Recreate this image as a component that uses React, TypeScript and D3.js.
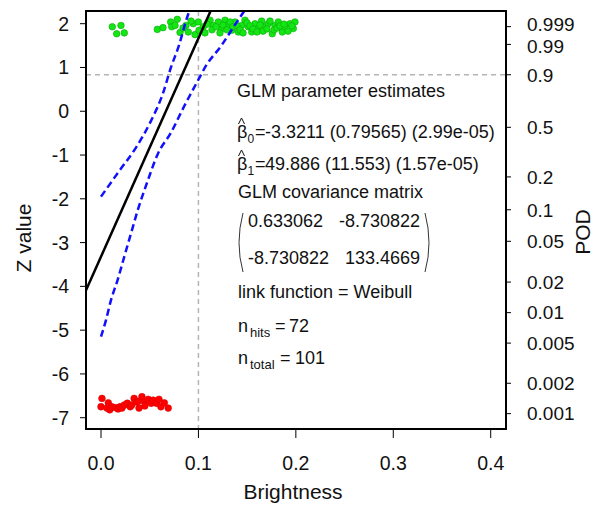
import * as d3 from 'd3';

// axis ticks
const xTicks = [0, 0.1, 0.2, 0.3, 0.4];
const zTicks = [2, 1, 0, -1, -2, -3, -4, -5, -6, -7];
const podTicks = [0.999, 0.99, 0.9, 0.5, 0.2, 0.1, 0.05, 0.02, 0.01, 0.005, 0.002, 0.001];

// fitted model
const beta0 = -3.3211;
const beta1 = 49.886;
const podRef = 0.9;
const decisionX = 0.1;

// hits (plotted at top) and misses (plotted at bottom)
const hitX = [0.0116, 0.0205, 0.0161, 0.0239,
  0.0578, 0.0636, 0.0715, 0.0783, 0.0726, 0.076, 0.0811, 0.0872, 0.0896, 0.0947, 0.0965, 0.1006,
  0.0999, 0.105, 0.1119, 0.1153, 0.1204, 0.1239, 0.1273, 0.1307, 0.1342, 0.1375, 0.1409, 0.1444, 0.1478, 0.1512,
  0.1547, 0.1581, 0.1615, 0.1649, 0.1683, 0.1717, 0.1758, 0.1786, 0.182, 0.1861, 0.1889, 0.194, 0.1974, 0.1991,
  0.1067, 0.1088, 0.1139, 0.118, 0.1221, 0.1252, 0.1293, 0.1324, 0.1355, 0.1396, 0.1427, 0.1458, 0.1499, 0.153,
  0.156, 0.1601, 0.1632, 0.1663, 0.1704, 0.1735, 0.1776, 0.1806, 0.1837, 0.1878, 0.192, 0.196, 0.0842, 0.0924];
const hitZ = [1.93, 1.96, 1.77, 1.79,
  1.87, 1.91, 2.04, 2.1, 1.93, 1.96, 1.8, 1.96, 1.81, 2.0, 1.75, 1.85,
  2.04, 1.93, 2.08, 1.96, 2.04, 1.89, 2.08, 1.96, 1.85, 2.04, 1.81, 1.96, 2.08, 1.93,
  1.81, 2.0, 1.89, 2.06, 1.93, 2.0, 1.77, 1.96, 2.04, 1.81, 1.93, 2.0, 1.89, 2.04,
  1.79, 1.99, 1.86, 1.93, 1.79, 1.97, 1.86, 2.04, 1.93, 1.95, 1.86, 1.79, 2.02, 1.95,
  1.88, 1.81, 1.97, 1.83, 1.88, 2.06, 1.86, 1.9, 1.95, 1.99, 1.83, 1.95, 1.9, 2.06];
const missX = [0.0, 0.001, 0.006, 0.0075, 0.009, 0.011, 0.015, 0.0175, 0.0195, 0.0215,
  0.024, 0.027, 0.03, 0.0315, 0.034, 0.036, 0.038, 0.039, 0.042, 0.0445,
  0.045, 0.0485, 0.0515, 0.0535, 0.057, 0.0595, 0.0615, 0.065, 0.069];
const missZ = [-6.75, -6.56, -6.78, -6.66, -6.82, -6.75, -6.77, -6.8, -6.75, -6.78,
  -6.71, -6.67, -6.75, -6.71, -6.56, -6.64, -6.63, -6.78, -6.52, -6.63,
  -6.73, -6.58, -6.67, -6.6, -6.67, -6.58, -6.75, -6.66, -6.78];

// confidence bounds
const upperX = [0, 0.0188, 0.0359, 0.0513, 0.0633, 0.0718, 0.0804, 0.0872, 0.0906];
const upperZ = [-1.95, -1.36, -0.83, -0.22, 0.39, 1.0, 1.53, 2.06, 2.29];
const lowerX = [0, 0.0051, 0.0103, 0.0171, 0.0239, 0.0308, 0.0377, 0.0479, 0.0582, 0.0718, 0.0855, 0.0992, 0.1078, 0.1232, 0.1368, 0.147];
const lowerZ = [-5.15, -4.77, -4.31, -3.85, -3.32, -2.79, -2.26, -1.59, -0.98, -0.49, 0.12, 0.69, 1.04, 1.49, 1.95, 2.29];

const W = 603;
const H = 509;
const L = 86, R = 506, T = 11, B = 429;
const font = '"Liberation Sans", Arial, Helvetica, sans-serif';

const weibullLink = (p: number) => Math.log(-Math.log(1 - p));

export default function App() {
  const x = d3.scaleLinear().domain([-0.0154, 0.4157]).range([L, R]);
  const y = d3.scaleLinear().domain([-7.258, 2.29]).range([B, T]);

  const band = d3.line<number[]>()
    .x(d => x(d[0]))
    .y(d => y(d[1]))
    .curve(d3.curveMonotoneX);
  const upper = band(upperX.map((v, i) => [v, upperZ[i]]));
  const lower = band(lowerX.map((v, i) => [v, lowerZ[i]]));

  const [x0, x1] = x.domain();
  const fitLine = d3.line<number[]>().x(d => x(d[0])).y(d => y(d[1]))([
    [x0, beta0 + beta1 * x0],
    [x1, beta0 + beta1 * x1],
  ]);

  const zRef = weibullLink(podRef);
  const fmt = d3.format('.1f');
  // top two POD labels sit very close; nudge them apart a little
  const podNudge = (p: number) => (p === 0.999 ? -2.5 : p === 0.99 ? 2 : 0);

  return (
    <svg width={W} height={H} style={{ position: 'absolute', left: 0, top: 0, background: '#fff' }}
      fontFamily={font}>
      <defs>
        <clipPath id="plot">
          <rect x={L} y={T} width={R - L} height={B - T} />
        </clipPath>
      </defs>

      <g clipPath="url(#plot)">
        <line x1={L} x2={R} y1={y(zRef)} y2={y(zRef)} stroke="#b4b4b4" strokeWidth={1.5} strokeDasharray="5,4" />
        <line x1={x(decisionX)} x2={x(decisionX)} y1={T} y2={B} stroke="#b4b4b4" strokeWidth={1.5} strokeDasharray="5,4" />
        {hitX.map((v, i) => (
          <circle key={'h' + i} cx={x(v)} cy={y(hitZ[i])} r={3.3} fill="#14e614" stroke="#0aa80a" strokeWidth={0.6} />
        ))}
        {missX.map((v, i) => (
          <circle key={'m' + i} cx={x(v)} cy={y(missZ[i])} r={3.4} fill="#ff0000" stroke="#d00000" strokeWidth={0.5} />
        ))}
        <path d={fitLine || ''} fill="none" stroke="#000" strokeWidth={2.5} />
        <path d={upper || ''} fill="none" stroke="#1010ff" strokeWidth={2.5} strokeDasharray="7,4" />
        <path d={lower || ''} fill="none" stroke="#1010ff" strokeWidth={2.5} strokeDasharray="7,4" />
      </g>

      <rect x={L} y={T} width={R - L} height={B - T} fill="none" stroke="#000" strokeWidth={2} />

      {/* left axis */}
      {zTicks.map(t => (
        <g key={'z' + t}>
          <line x1={L - 6} x2={L} y1={y(t)} y2={y(t)} stroke="#000" strokeWidth={1} />
          <text x={L - 17} y={y(t)} dy="0.36em" textAnchor="end" fontSize={19.5} fill="#111">{t}</text>
        </g>
      ))}
      <text transform={`translate(31,238) rotate(-90)`} textAnchor="middle" fontSize={21} fill="#111">Z value</text>

      {/* bottom axis */}
      {xTicks.map(t => (
        <g key={'x' + t}>
          <line x1={x(t)} x2={x(t)} y1={B} y2={B + 9} stroke="#000" strokeWidth={1} />
          <text x={x(t)} y={470} textAnchor="middle" fontSize={19.5} fill="#111">{fmt(t)}</text>
        </g>
      ))}
      <text x={293} y={499} textAnchor="middle" fontSize={21} fill="#111">Brightness</text>

      {/* right POD axis */}
      {podTicks.map(p => (
        <g key={'p' + p}>
          <line x1={R} x2={R + 5} y1={y(weibullLink(p))} y2={y(weibullLink(p))} stroke="#000" strokeWidth={1} />
          <text x={527} y={y(weibullLink(p)) + podNudge(p)} dy="0.36em" fontSize={19} fill="#111">{String(p)}</text>
        </g>
      ))}
      <text transform={`translate(590,232) rotate(-90)`} textAnchor="middle" fontSize={21} fill="#111">POD</text>

      {/* annotation block */}
      <g fontSize={18} fill="#111">
        <text x={237} y={97}>GLM parameter estimates</text>

        <path d="M238.5,124 L241.5,118 L244.5,124" fill="none" stroke="#111" strokeWidth={1} />
        <text x={237} y={138}>β</text>
        <text x={247.5} y={143} fontSize={12}>0</text>
        <text x={255} y={138}>=</text>
        <text x={265} y={138}>-3.3211 (0.79565) (2.99e-05)</text>

        <path d="M238.5,156 L241.5,150 L244.5,156" fill="none" stroke="#111" strokeWidth={1} />
        <text x={237} y={170}>β</text>
        <text x={247.5} y={175} fontSize={12}>1</text>
        <text x={255} y={170}>=</text>
        <text x={265} y={170}>49.886 (11.553) (1.57e-05)</text>

        <text x={238} y={198}>GLM covariance matrix</text>
        <path d="M243,213 Q235,243 243,272" fill="none" stroke="#333" strokeWidth={1} />
        <path d="M425,213 Q433,243 425,272" fill="none" stroke="#333" strokeWidth={1} />
        <text x={248} y={227}>0.633062</text>
        <text x={420} y={227} textAnchor="end">-8.730822</text>
        <text x={248} y={264}>-8.730822</text>
        <text x={420} y={264} textAnchor="end">133.4669</text>

        <text x={238} y={298}>link function = Weibull</text>

        <text x={238} y={332}>n</text>
        <text x={250} y={337} fontSize={13}>hits</text>
        <text x={275} y={332}>=</text>
        <text x={289} y={332}>72</text>

        <text x={238} y={364}>n</text>
        <text x={250} y={369} fontSize={13}>total</text>
        <text x={280} y={364}>=</text>
        <text x={295} y={364}>101</text>
      </g>
    </svg>
  );
}
